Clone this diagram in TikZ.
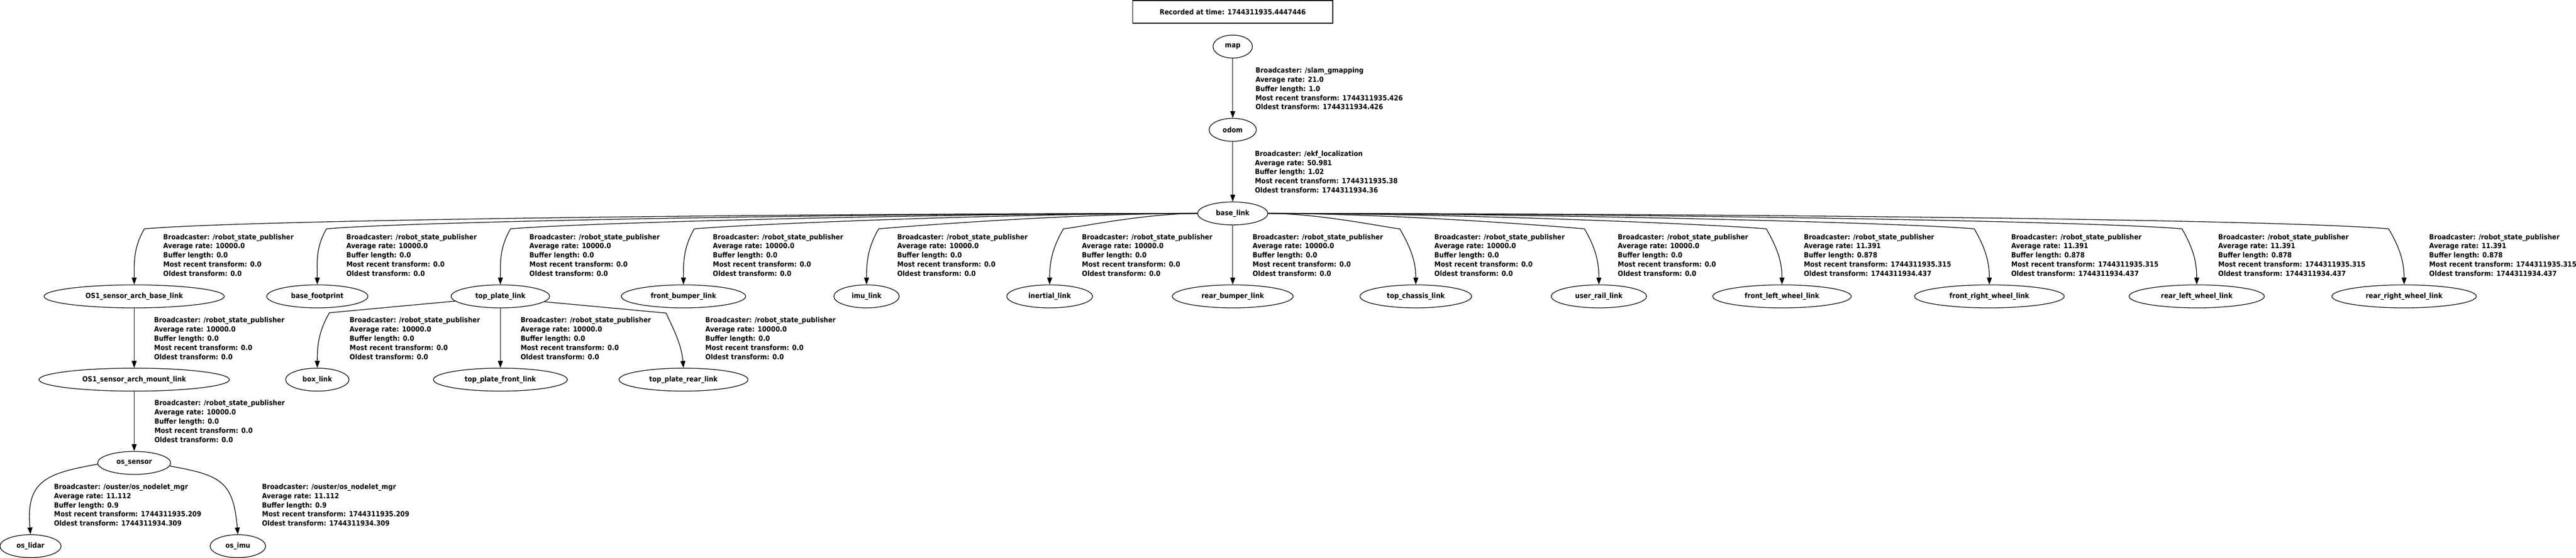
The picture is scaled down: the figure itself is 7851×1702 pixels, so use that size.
\documentclass[tikz,border=0pt]{standalone}
\usepackage{fontspec}
\usepackage{tikz}
\usetikzlibrary{shapes.geometric,arrows.meta,calc}
\newfontfamily\tffont{DejaVu Sans}[FakeStretch=0.9]

\newcommand{\rsp}{/robot\_state\_publisher}
\newcommand{\tfinfo}[5]{Broadcaster: #1\\Average rate: #2\\Buffer length: #3\\Most recent transform: #4\\Oldest transform: #5}
% base_link -> child, corner sits a bit towards base_link
\newcommand{\tfwest}[2]{\draw[tf] (base.west) to[out=180, in=5, in looseness=0.25] ($(#1.north)+(#2,170)$) to[out=-120, in=90] (#1.north);}
\newcommand{\tfeast}[2]{\draw[tf] (base.east) to[out=0, in=175, in looseness=0.25] ($(#1.north)+(#2,170)$) to[out=-60, in=90] (#1.north);}

\tikzset{
  frame/.style={draw, ellipse, line width=0.57pt, minimum height=0.7cm, inner sep=0pt},
  tf/.style={line width=0.57pt, -{Triangle[length=0.21cm, width=0.15cm]}},
  info/.style={anchor=north west, align=left, inner sep=0pt},
}

\begin{document}
\begin{tikzpicture}[x=0.01cm, y=0.01cm, font=\tffont\bfseries\fontsize{6.17}{7.97}\selectfont]
    \useasboundingbox (0,0) rectangle (7851,-1702);
    \node[draw, line width=0.57pt, minimum width=6.1cm, minimum height=0.69cm, inner sep=0pt] (stamp) at (3757,-36) {Recorded at time: 1744311935.4447446};

    % frames
    \node[frame, minimum width=1.20cm] (map) at (3757,-142) {map};
    \node[frame, minimum width=1.44cm] (odom) at (3757,-396) {odom};
    \node[frame, minimum width=2.14cm] (base) at (3757,-651) {base\_link};

    \node[frame, minimum width=5.49cm] (archbase) at (409,-904) {OS1\_sensor\_arch\_base\_link};
    \node[frame, minimum width=3.08cm] (footprint) at (967,-904) {base\_footprint};
    \node[frame, minimum width=3.00cm] (topplate) at (1525,-904) {top\_plate\_link};
    \node[frame, minimum width=3.79cm] (frontbumper) at (2083,-904) {front\_bumper\_link};
    \node[frame, minimum width=1.99cm] (imu) at (2641,-904) {imu\_link};
    \node[frame, minimum width=2.61cm] (inertial) at (3199,-904) {inertial\_link};
    \node[frame, minimum width=3.68cm] (rearbumper) at (3757,-904) {rear\_bumper\_link};
    \node[frame, minimum width=3.40cm] (topchassis) at (4315,-904) {top\_chassis\_link};
    \node[frame, minimum width=2.90cm] (userrail) at (4873,-904) {user\_rail\_link};
    \node[frame, minimum width=4.22cm] (flwheel) at (5431,-904) {front\_left\_wheel\_link};
    \node[frame, minimum width=4.56cm] (frwheel) at (6063,-904) {front\_right\_wheel\_link};
    \node[frame, minimum width=4.12cm] (rlwheel) at (6695,-904) {rear\_left\_wheel\_link};
    \node[frame, minimum width=4.40cm] (rrwheel) at (7327,-904) {rear\_right\_wheel\_link};

    \node[frame, minimum width=5.80cm] (archmount) at (409,-1158) {OS1\_sensor\_arch\_mount\_link};
    \node[frame, minimum width=1.93cm] (box) at (967,-1158) {box\_link};
    \node[frame, minimum width=4.08cm] (platefront) at (1525,-1158) {top\_plate\_front\_link};
    \node[frame, minimum width=3.93cm] (platerear) at (2083,-1158) {top\_plate\_rear\_link};

    \node[frame, minimum width=2.22cm] (ossensor) at (409,-1412) {os\_sensor};
    \node[frame, minimum width=1.86cm] (oslidar) at (93,-1666) {os\_lidar};
    \node[frame, minimum width=1.69cm] (osimu) at (725,-1666) {os\_imu};

    % transforms
    \draw[tf] (map) -- (odom);
    \draw[tf] (odom) -- (base);
    \draw[tf] (base) -- (rearbumper);
    \tfwest{archbase}{31}
    \tfwest{footprint}{28}
    \tfwest{topplate}{31}
    \tfwest{frontbumper}{33}
    \tfwest{imu}{37}
    \tfwest{inertial}{42}
    \tfeast{topchassis}{-49}
    \tfeast{userrail}{-44}
    \tfeast{flwheel}{-48}
    \tfeast{frwheel}{-46}
    \tfeast{rlwheel}{-45}
    \tfeast{rrwheel}{-47}
    \draw[tf] (archbase) -- (archmount);
    \draw[tf] (archmount) -- (ossensor);
    \draw[tf] (topplate) -- (platefront);
    \draw[tf] (topplate.186) -- ($(box.north)+(37,168)$) to[out=-120, in=90] (box.north);
    \draw[tf] (topplate.-7) -- ($(platerear.north)+(-53,167)$) to[out=-65, in=95] (platerear.north);
    \draw[tf] (ossensor.182) to[out=190, in=95, looseness=1.4] (oslidar.north);
    \draw[tf] (ossensor.-5) to[out=-10, in=95, looseness=1.4] (osimu.north);

    % broadcaster info
    \node[info] (i-odom) at (3826,-205) {\tfinfo{/slam\_gmapping}{21.0}{1.0}{1744311935.426}{1744311934.426}};
    \node[info] (i-base) at (3824,-459) {\tfinfo{/ekf\_localization}{50.981}{1.02}{1744311935.38}{1744311934.36}};
    \node[info] (i-archbase) at (497,-713) {\tfinfo{\rsp}{10000.0}{0.0}{0.0}{0.0}};
    \node[info] (i-footprint) at (1055,-713) {\tfinfo{\rsp}{10000.0}{0.0}{0.0}{0.0}};
    \node[info] (i-topplate) at (1613,-713) {\tfinfo{\rsp}{10000.0}{0.0}{0.0}{0.0}};
    \node[info] (i-frontbumper) at (2172,-713) {\tfinfo{\rsp}{10000.0}{0.0}{0.0}{0.0}};
    \node[info] (i-imu) at (2734,-713) {\tfinfo{\rsp}{10000.0}{0.0}{0.0}{0.0}};
    \node[info] (i-inertial) at (3297,-713) {\tfinfo{\rsp}{10000.0}{0.0}{0.0}{0.0}};
    \node[info] (i-rearbumper) at (3817,-713) {\tfinfo{\rsp}{10000.0}{0.0}{0.0}{0.0}};
    \node[info] (i-topchassis) at (4371,-713) {\tfinfo{\rsp}{10000.0}{0.0}{0.0}{0.0}};
    \node[info] (i-userrail) at (4930,-713) {\tfinfo{\rsp}{10000.0}{0.0}{0.0}{0.0}};
    \node[info] (i-flwheel) at (5497,-713) {\tfinfo{\rsp}{11.391}{0.878}{1744311935.315}{1744311934.437}};
    \node[info] (i-frwheel) at (6129,-713) {\tfinfo{\rsp}{11.391}{0.878}{1744311935.315}{1744311934.437}};
    \node[info] (i-rlwheel) at (6760,-713) {\tfinfo{\rsp}{11.391}{0.878}{1744311935.315}{1744311934.437}};
    \node[info] (i-rrwheel) at (7403,-713) {\tfinfo{\rsp}{11.391}{0.878}{1744311935.315}{1744311934.437}};
    \node[info] (i-archmount) at (469,-967) {\tfinfo{\rsp}{10000.0}{0.0}{0.0}{0.0}};
    \node[info] (i-box) at (1065,-967) {\tfinfo{\rsp}{10000.0}{0.0}{0.0}{0.0}};
    \node[info] (i-platefront) at (1586,-967) {\tfinfo{\rsp}{10000.0}{0.0}{0.0}{0.0}};
    \node[info] (i-platerear) at (2149,-967) {\tfinfo{\rsp}{10000.0}{0.0}{0.0}{0.0}};
    \node[info] (i-ossensor) at (470,-1220) {\tfinfo{\rsp}{10000.0}{0.0}{0.0}{0.0}};
    \node[info] (i-oslidar) at (164,-1475) {\tfinfo{/ouster/os\_nodelet\_mgr}{11.112}{0.9}{1744311935.209}{1744311934.309}};
    \node[info] (i-osimu) at (798,-1475) {\tfinfo{/ouster/os\_nodelet\_mgr}{11.112}{0.9}{1744311935.209}{1744311934.309}};
\end{tikzpicture}
\end{document}
